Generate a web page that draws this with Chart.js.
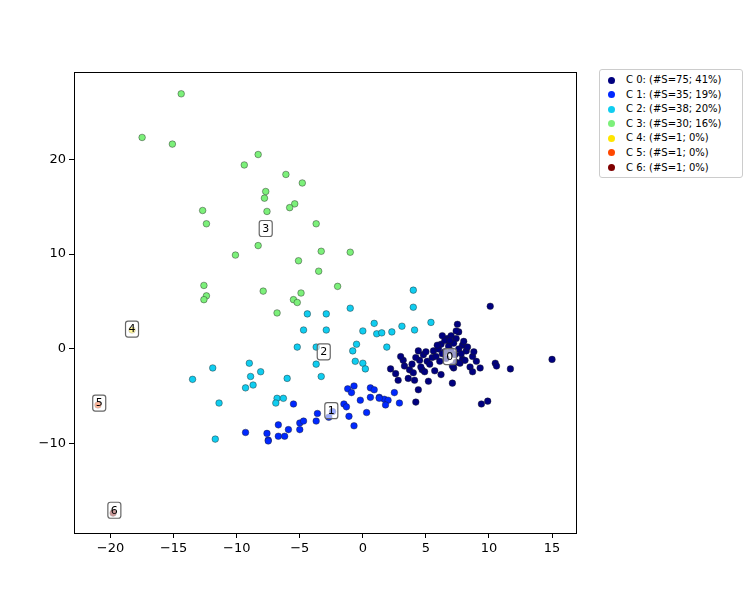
<!DOCTYPE html>
<html>
<head>
<meta charset="utf-8">
<script src="https://cdn.jsdelivr.net/npm/chart.js@4.4.0/dist/chart.umd.min.js"></script>
<style>
  body { margin: 0; background: #fff; font-family: "DejaVu Sans", sans-serif; }
  #wrap { position: relative; width: 750px; height: 600px; }
  #legend { position: absolute; left: 599px; top: 69px; width: 142px; border: 1px solid #ccc; border-radius: 3px;
            padding: 3px 0 2px 0; font-size: 10px; line-height: 14.6px; background: #fff; }
  #legend div { padding-left: 8px; white-space: nowrap; }
  #legend span.dot { display: inline-block; width: 7px; height: 7px; border-radius: 50%; margin-right: 11px; vertical-align: -0.5px; }
</style>
</head>
<body>
<div id="wrap">
  <canvas id="chart" width="750" height="600"></canvas>
  <div id="legend"></div>
</div>
<script>
const clusterNames = ['C 0: (#S=75; 41%)', 'C 1: (#S=35; 19%)', 'C 2: (#S=38; 20%)', 'C 3: (#S=30; 16%)',
                      'C 4: (#S=1; 0%)', 'C 5: (#S=1; 0%)', 'C 6: (#S=1; 0%)'];
const clusterColors = ['#00007f', '#0028ff', '#10cdf0', '#7cf07a', '#ffe500', '#ff4800', '#7f0000'];
const xTicks = [-20, -15, -10, -5, 0, 5, 10, 15];
const yTicks = [-10, 0, 10, 20];

const c0 = [[10.1,4.5],[7.5,2.6],[7.6,1.8],[6.2,0.5],[6.7,1.1],[7.4,1.1],[5.6,-0.2],[4.4,-0.2],[7.9,0.4],[8.2,-0.2],
  [8.7,-0.8],[9.0,-1.3],[7.9,-1.1],[7.4,-1.4],[7.2,-2.0],[8.5,-1.9],[8.7,-2.4],[10.5,-1.5],[10.6,-1.8],[11.7,-2.1],
  [15.0,-1.1],[5.1,-1.3],[5.5,-0.9],[4.5,-1.2],[3.2,-1.2],[3.3,-1.8],[2.2,-2.1],[3.7,-2.2],[4.0,-2.5],[4.7,-2.2],
  [4.9,-2.4],[3.6,-3.1],[2.8,-3.3],[4.1,-3.3],[5.2,-3.4],[6.2,-2.7],[7.1,-3.6],[4.4,-4.3],[4.2,-5.6],[9.4,-5.8],
  [9.9,-5.5],[6.5,-0.3],[6.0,0.0],[6.3,-0.5],[6.8,0.3],[7.0,-0.2],[7.2,0.6],[7.6,0.0],[7.8,-0.5],[8.0,0.8],
  [6.5,0.9],[7.0,1.4],[5.8,-0.8],[6.1,-1.3],[8.3,0.2],[7.3,-0.6],[6.6,-1.0],[5.3,-1.6],[4.8,-0.6],[3.9,-1.6],
  [8.8,-0.3],[7.7,-1.5],[6.9,0.9],[5.9,0.4],[4.6,-1.9],[2.6,-2.6],[3.0,-0.8],[5.7,-2.3],[9.3,-2.0],[8.1,-1.2],
  [7.4,1.9],[6.3,1.4],[7.1,-1.8],[5.0,-0.3],[4.2,-0.9]];
const c1 = [[-5.5,-5.8],[-6.7,-8.0],[-9.3,-8.8],[-7.5,-9.6],[-6.7,-9.2],[-6.2,-9.2],[-5.9,-8.5],[-5.0,-7.8],[-4.7,-7.6],
  [-5.0,-8.5],[-3.7,-7.6],[-3.6,-6.8],[-2.7,-7.2],[-1.5,-5.8],[-1.3,-6.1],[-1.1,-7.1],[-0.7,-8.1],[0.3,-6.7],[-1.2,-4.2],
  [-0.7,-3.9],[-0.9,-4.6],[-0.2,-5.4],[0.6,-4.1],[0.6,-5.1],[1.3,-5.1],[1.7,-5.3],[2.0,-5.4],[-7.5,-9.7],[0.9,-4.3],
  [1.3,-5.2],[2.5,-4.6],[2.9,-5.7],[1.8,-5.9],[-7.6,-8.9],[-2.4,-6.6]];
const c2 = [[-4.4,3.7],[-2.9,3.7],[-1.0,4.3],[-4.7,2.0],[-2.9,2.0],[0.0,1.9],[0.9,2.7],[1.1,1.6],[2.3,1.8],[1.9,0.2],
  [-0.5,0.5],[-0.8,-0.2],[-0.6,-1.3],[0.0,-1.5],[0.2,-2.1],[-5.2,0.2],[-3.7,0.2],[-3.7,-1.6],[-3.3,-2.9],[-6.0,-3.1],
  [-9.0,-1.5],[-8.1,-2.4],[-8.9,-2.9],[-8.7,-3.8],[-9.3,-4.1],[-11.9,-2.0],[-11.4,-5.7],[-11.7,-9.5],[-6.8,-5.2],
  [-6.3,-5.2],[-6.9,-5.7],[-13.5,-3.2],[4.0,6.2],[4.0,4.4],[5.4,2.8],[3.1,2.4],[4.1,2.0],[1.5,1.7]];
const c3 = [[-14.4,26.9],[-17.5,22.3],[-15.1,21.6],[-9.4,19.4],[-8.3,20.5],[-6.1,18.4],[-4.8,17.5],[-7.7,16.6],
  [-7.8,15.9],[-5.4,15.3],[-5.8,14.9],[-7.6,14.5],[-12.7,14.6],[-12.4,13.2],[-3.7,13.2],[-8.3,10.9],[-10.1,9.9],
  [-3.3,10.3],[-1.0,10.2],[-5.1,9.3],[-3.5,8.2],[-12.6,6.7],[-2.0,6.6],[-7.9,6.1],[-4.9,5.9],[-5.5,5.2],[-12.4,5.6],
  [-12.6,5.2],[-6.8,3.8],[-5.2,4.9]];
const c4 = [[-18.3,2.0]];
const c5 = [[-21.0,-5.9]];
const c6 = [[-19.8,-17.3]];
const clusters = [c0, c1, c2, c3, c4, c5, c6];
const centroids = [[6.9,-0.8],[-2.5,-6.5],[-3.1,-0.3],[-7.7,12.7],[-18.3,2.1],[-20.9,-5.7],[-19.7,-17.0]];

// legend
const legendEl = document.getElementById('legend');
clusterNames.forEach(function(name, i) {
    const row = document.createElement('div');
    row.innerHTML = '<span class="dot" style="background:' + clusterColors[i] + '"></span>' + name;
    legendEl.appendChild(row);
});

function minus(v) { return String(v).replace('-', '\u2212'); }

const frameAndLabels = {
    id: 'frameAndLabels',
    afterDatasetsDraw(chart) {
        const ctx = chart.ctx, a = chart.chartArea;
        const xs = chart.scales.x, ys = chart.scales.y;
        ctx.save();
        centroids.forEach(function(c, i) {
            const px = xs.getPixelForValue(c[0]), py = ys.getPixelForValue(c[1]);
            ctx.fillStyle = 'rgba(255,255,255,0.6)';
            ctx.strokeStyle = '#666';
            ctx.lineWidth = 1.2;
            ctx.beginPath(); ctx.roundRect(px - 6.5, py - 8, 13, 16, 2.5); ctx.fill(); ctx.stroke();
            ctx.fillStyle = '#000';
            ctx.font = '11px "DejaVu Sans"';
            ctx.textAlign = 'center'; ctx.textBaseline = 'middle';
            ctx.fillText(String(i), px, py + 0.5);
        });
        ctx.strokeStyle = '#000';
        ctx.lineWidth = 1;
        ctx.strokeRect(a.left + 0.5, a.top + 0.5, a.right - a.left, a.bottom - a.top);
        ctx.restore();
    }
};

new Chart(document.getElementById('chart'), {
    type: 'scatter',
    data: {
        datasets: clusters.map(function(pts, i) {
            return {
                label: clusterNames[i],
                data: pts.map(p => ({ x: p[0], y: p[1] })),
                backgroundColor: clusterColors[i],
                borderColor: 'rgba(30,30,30,0.7)',
                borderWidth: 0.6,
                pointRadius: 3.3
            };
        })
    },
    options: {
        responsive: false,
        animation: false,
        layout: { padding: { top: 72, right: 174, left: 0, bottom: 0 } },
        plugins: { legend: { display: false }, tooltip: { enabled: false } },
        scales: {
            x: {
                type: 'linear', min: -22.9, max: 16.9,
                afterBuildTicks: s => { s.ticks = xTicks.map(v => ({ value: v })); },
                afterFit: s => { s.height = 67; },
                grid: { drawOnChartArea: false, color: '#000', tickLength: 5 },
                border: { color: '#000' },
                ticks: { color: '#000', font: { size: 13, family: 'DejaVu Sans' }, padding: 3, callback: v => minus(v) }
            },
            y: {
                type: 'linear', min: -19.4, max: 29.2,
                afterBuildTicks: s => { s.ticks = yTicks.map(v => ({ value: v })); },
                afterFit: s => { s.width = 74; },
                grid: { drawOnChartArea: false, color: '#000', tickLength: 5 },
                border: { color: '#000' },
                ticks: { color: '#000', font: { size: 13, family: 'DejaVu Sans' }, padding: 3, callback: v => minus(v) }
            }
        }
    },
    plugins: [frameAndLabels]
});
</script>
</body>
</html>
